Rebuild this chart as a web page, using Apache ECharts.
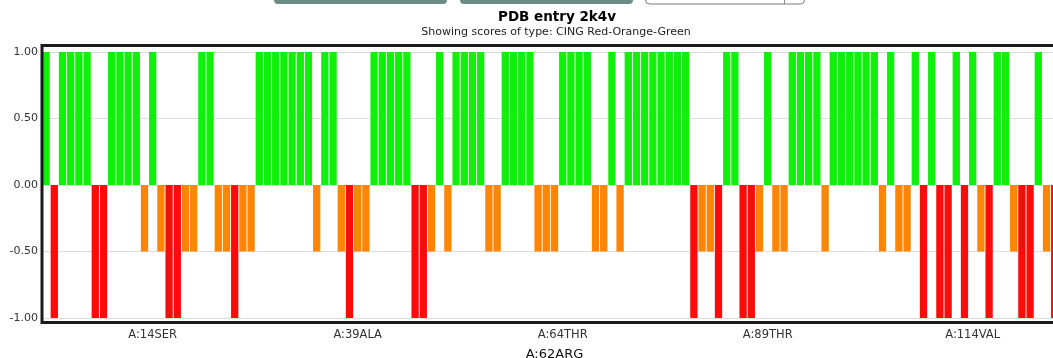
<!DOCTYPE html>
<html>
<head>
<meta charset="utf-8">
<script src="https://cdn.jsdelivr.net/npm/echarts@6/dist/echarts.min.js"></script>
<style>
html,body{margin:0;padding:0;background:#fff;}
#chart{width:1053px;height:358px;}
</style>
</head>
<body>
<div id="chart"></div>
<script>
// Residue numbers (chain A), one bar each
var residueCount = 125;
// CING Red-Orange-Green scores: 1 = green, -0.5 = orange, -1 = red
var scores = [
  1, -1, 1, 1, 1, 1, -1, -1, 1, 1,
  1, 1, -0.5, 1, -0.5, -1, -1, -0.5, -0.5, 1,
  1, -0.5, -0.5, -1, -0.5, -0.5, 1, 1, 1, 1,
  1, 1, 1, -0.5, 1, 1, -0.5, -1, -0.5, -0.5,
  1, 1, 1, 1, 1, -1, -1, -0.5, 1, -0.5,
  1, 1, 1, 1, -0.5, -0.5, 1, 1, 1, 1,
  -0.5, -0.5, -0.5, 1, 1, 1, 1, -0.5, -0.5, 1,
  -0.5, 1, 1, 1, 1, 1, 1, 1, 1, -1,
  -0.5, -0.5, -1, 1, 1, -1, -1, -0.5, 1, -0.5,
  -0.5, 1, 1, 1, 1, -0.5, 1, 1, 1, 1,
  1, 1, -0.5, 1, -0.5, -0.5, 1, -1, 1, -1,
  -1, 1, -1, 1, -0.5, -1, 1, 1, -0.5, -1,
  -1, 1, -0.5, -1, 1
];
// Tick labels shown on the x axis (residue index -> label)
var tickResidues = [14, 39, 64, 89, 114];
var tickNames = ['A:14SER', 'A:39ALA', 'A:64THR', 'A:89THR', 'A:114VAL'];
var axisTitle = 'A:62ARG';
var yTicks = [-1, -0.5, 0, 0.5, 1];
var titleText = 'PDB entry 2k4v';
var subtitleText = 'Showing scores of type: CING Red-Orange-Green';

var categories = [];
for (var i = 1; i <= residueCount; i++) categories.push('A:' + i);
var tickMap = {};
tickResidues.forEach(function (r, k) { tickMap['A:' + r] = tickNames[k]; });

function colorFor(v) {
  if (v >= 0.5) return '#0ff00a';
  if (v <= -0.75) return '#fd0a0a';
  return '#ff8505';
}

var chart = echarts.init(document.getElementById('chart'), null, {renderer: 'canvas'});
var FONT = 'DejaVu Sans, Verdana, sans-serif';
chart.setOption({
  animation: false,
  backgroundColor: '#ffffff',
  grid: {left: 42, right: -14, top: 52, bottom: 40, containLabel: false, outerBoundsMode: 'none'},
  xAxis: {
    type: 'category',
    data: categories,
    name: axisTitle,
    nameLocation: 'middle',
    nameGap: 30,
    nameTextStyle: {fontFamily: FONT, fontSize: 13, color: '#111'},
    axisLine: {show: false},
    axisTick: {show: false},
    axisLabel: {
      fontFamily: FONT, fontSize: 11.5, color: '#333', margin: 11,
      interval: function (idx, val) { return tickMap.hasOwnProperty(val); },
      formatter: function (val) { return tickMap[val] || ''; }
    },
    splitLine: {show: false}
  },
  yAxis: {
    type: 'value',
    min: yTicks[0],
    max: yTicks[yTicks.length - 1],
    interval: 0.5,
    axisLine: {show: false},
    axisTick: {show: false},
    axisLabel: {
      fontFamily: FONT, fontSize: 11, color: '#333', margin: 4,
      formatter: function (v) { return v.toFixed(2); }
    },
    splitLine: {show: true, lineStyle: {color: '#dddddd', width: 1}}
  },
  series: [{
    type: 'bar',
    data: scores.map(function (v) { return {value: v, itemStyle: {color: colorFor(v)}}; }),
    barCategoryGap: '11%',
    barGap: '0%'
  }],
  graphic: [
    {type: 'rect', shape: {x: 274, y: -12, width: 173, height: 16, r: 4}, style: {fill: '#6a8c85'}},
    {type: 'rect', shape: {x: 460, y: -12, width: 173, height: 16, r: 4}, style: {fill: '#6a8c85'}},
    {type: 'rect', shape: {x: 645.5, y: -12, width: 159, height: 16, r: 4}, style: {fill: '#ffffff', stroke: '#777', lineWidth: 1}},
    {type: 'line', shape: {x1: 784.5, y1: 0, x2: 784.5, y2: 4}, style: {stroke: '#888', lineWidth: 1}},
    {type: 'text', x: 557, y: 10, style: {text: titleText, fontFamily: FONT, fontWeight: 'bold', fontSize: 13.5, fill: '#000', align: 'center'}},
    {type: 'text', x: 556, y: 27, style: {text: subtitleText, fontFamily: FONT, fontSize: 11, fill: '#222', align: 'center'}},
    {type: 'rect', z: 100, shape: {x: 42, y: 45.5, width: 1030, height: 277}, style: {fill: 'none', stroke: '#1a1a1a', lineWidth: 3}}
  ]
});
</script>
</body>
</html>
